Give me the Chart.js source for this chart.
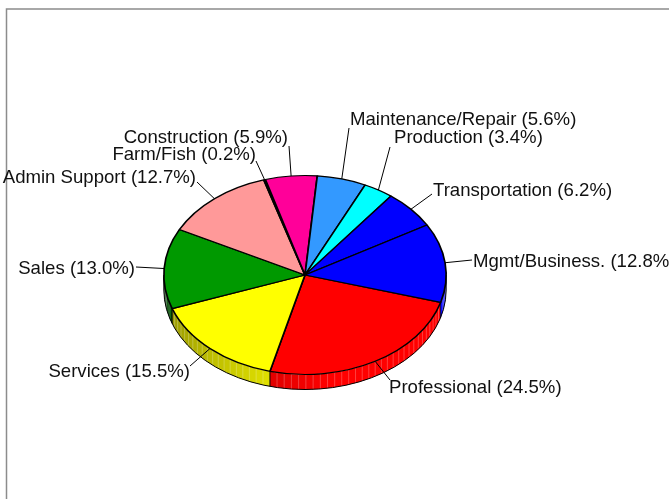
<!DOCTYPE html>
<html><head><meta charset="utf-8">
<script src="https://cdn.jsdelivr.net/npm/chart.js@4"></script>
<style>html,body{margin:0;padding:0;background:#fff;overflow:hidden}#w{width:669px;height:499px;position:relative}canvas{display:block}</style>
</head><body><div id="w"><canvas id="c" width="669" height="499"></canvas></div>
<script>
const categories = ["Professional","Services","Sales","Admin Support","Farm/Fish","Construction","Maintenance/Repair","Production","Transportation","Mgmt/Business."];
const shares = [24.5,15.5,13.0,12.7,0.2,5.9,5.6,3.4,6.2,12.8];
const colors = ["#ff0000","#ffff00","#009900","#ff9999","#000000","#ff0099","#3399ff","#00ffff","#0000ff","#0000ff"];
// label anchors: [text x, text y, align, leader end x, leader end y]
const labelSpots = [[389,388,"left",390,380],[190,372,"right",190,366],[135,269,"right",136,267],[196,178,"right",197,182],[256,155,"right",256,161],[288,138,"right",289,146],[350,120,"left",349,128],[394,138,"left",390,147],[433,191,"left",432,194],[473,262,"left",472,260]];
const squash = 0.705, depth = 15;

function shade(hex,f){const n=parseInt(hex.slice(1),16);return `rgb(${Math.round((n>>16&255)*f)},${Math.round((n>>8&255)*f)},${Math.round((n&255)*f)})`;}
function brightness(deg){return Math.max(0.3,Math.min(1,1-(deg-80)*0.005-(deg>160?(deg-160)*0.015:0)));}

const pie3d = {
  id:'pie3d',
  beforeDraw(chart){
    const c=chart.ctx;c.save();c.fillStyle='#fff';c.fillRect(0,0,669,499);
    c.strokeStyle='#8c8c8c';c.lineWidth=1.5;c.beginPath();c.moveTo(6.5,499);c.lineTo(6.5,9);c.lineTo(669,9);c.stroke();c.restore();
  },
  beforeDatasetsDraw(chart){
    const c=chart.ctx,arcs=chart.getDatasetMeta(0).data;
    const cx=arcs[0].x,cy=arcs[0].y,r=arcs[0].outerRadius,ry=r*squash;
    const P=(a,d)=>[cx+r*Math.cos(a),cy+ry*Math.sin(a)+d];
    c.save();
    arcs.forEach((arc,i)=>{
      for(let k=-1;k<=1;k++){
        const s=Math.max(arc.startAngle+k*2*Math.PI,0),e=Math.min(arc.endAngle+k*2*Math.PI,Math.PI);
        if(e<=s)continue;
        const step=3*Math.PI/180,n=Math.max(1,Math.ceil((e-s)/step));
        for(let j=0;j<n;j++){
          const a0=s+(e-s)*j/n,a1=Math.min(e,s+(e-s)*(j+1)/n+0.008);
          c.beginPath();
          for(let t=0;t<=3;t++){const p=P(a0+(a1-a0)*t/3,0);t?c.lineTo(p[0],p[1]):c.moveTo(p[0],p[1]);}
          for(let t=3;t>=0;t--){const p=P(a0+(a1-a0)*t/3,depth);c.lineTo(p[0],p[1]);}
          c.closePath();
          c.fillStyle=shade(colors[i],brightness((a0+a1)/2*180/Math.PI));
          c.fill();
        }
        c.strokeStyle='rgba(255,255,255,0.3)';c.lineWidth=0.8;
        for(let j=1;j<n;j++){
          const a=s+(e-s)*j/n,p=P(a,0),q=P(a,depth);
          c.beginPath();c.moveTo(p[0],p[1]);c.lineTo(q[0],q[1]);c.stroke();
        }
        if(s>0){const a=P(s,0),b=P(s,depth);c.strokeStyle='#000';c.lineWidth=1;c.beginPath();c.moveTo(a[0],a[1]);c.lineTo(b[0],b[1]);c.stroke();}
      }
    });
    c.strokeStyle='#000';c.lineWidth=1;c.beginPath();
    c.moveTo(cx+r,cy);c.lineTo(cx+r,cy+depth);
    c.ellipse(cx,cy+depth,r,ry,0,0,Math.PI);
    c.lineTo(cx-r,cy);c.stroke();
    c.restore();
    // squash the circular pie into the perspective ellipse
    c.save();c.translate(cx,cy);c.scale(1,squash);c.translate(-cx,-cy);
  },
  afterDatasetsDraw(chart){
    const c=chart.ctx,arcs=chart.getDatasetMeta(0).data;
    c.restore();
    c.save();
    c.font='18.6px "Liberation Sans"';c.textBaseline='middle';c.fillStyle='#111';
    arcs.forEach((arc,i)=>{
      const m=(arc.startAngle+arc.endAngle)/2,r=arc.outerRadius;
      const sp=labelSpots[i];
      c.strokeStyle='#000';c.lineWidth=1;c.beginPath();
      c.moveTo(arc.x+r*Math.cos(m),arc.y+r*squash*Math.sin(m));c.lineTo(sp[3],sp[4]);c.stroke();
      c.textAlign=sp[2];
      c.fillText(`${categories[i]} (${shares[i].toFixed(1)}%)`,sp[0],sp[1]);
    });
    c.restore();
  }
};

new Chart(document.getElementById('c'),{
  type:'pie',
  data:{labels:categories,datasets:[{data:shares,backgroundColor:colors,borderColor:'#000',borderWidth:1.7,clip:false}]},
  options:{
    responsive:false,animation:false,rotation:106,
    layout:{padding:{left:163,right:222,top:133,bottom:82}},
    plugins:{legend:{display:false},tooltip:{enabled:false}},
    events:[]
  },
  plugins:[pie3d]
});
</script></body></html>
